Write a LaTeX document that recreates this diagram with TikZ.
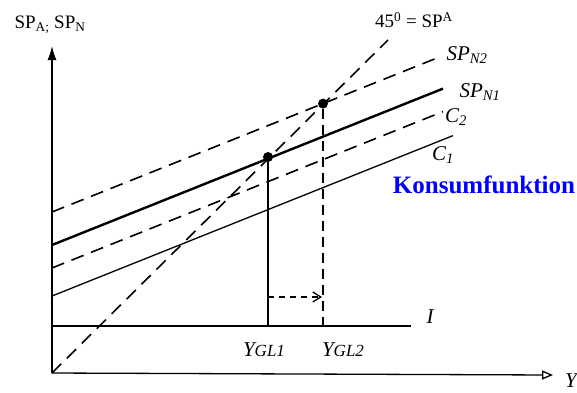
\documentclass[tikz,border=0pt]{standalone}
\usepackage{fontspec}
\setmainfont{Liberation Serif}
\usetikzlibrary{arrows.meta,positioning}

\begin{document}
\begin{tikzpicture}[x=1pt,y=-1pt, every node/.style={font=\fontsize{19}{21}\selectfont,inner sep=1pt}, hand/.style={font=\fontsize{21}{23}\selectfont\itshape}, thinln/.style={line width=1.3pt}, thickln/.style={line width=2.4pt}, dashln/.style={line width=1.6pt,dash pattern=on 13pt off 8pt}, vdash/.style={line width=2.2pt,dash pattern=on 10pt off 6pt}, dot/.style={circle,fill,inner sep=0pt,minimum size=10pt}]
\useasboundingbox (0,0) rectangle (577,392);
% axes
\coordinate (o) at (52,373);
\coordinate (ytop) at (52,46);
\coordinate (xend) at (553,375);
\draw[line width=1.4pt,-{Latex[length=14pt,width=9pt]}] (o)--(ytop);
\draw[line width=1.3pt,-{Triangle[open,length=11pt,width=9pt]}] (o)--(xend);
\node (ylab) at (50,25) {SP\textsubscript{A;} SP\textsubscript{N}};
\node[hand,anchor=east] (xlab) at (578,381) {Y};
% 45 degree line
\coordinate (d45) at (388,40);
\draw[dashln] (o)--(d45);
\node (lab45) at (414,20) {45\textsuperscript{0} = SP\textsuperscript{A}};
% investment line
\coordinate (i0) at (52,326);
\coordinate (i1) at (411,326);
\draw[thinln] (i0)--(i1);
\node[hand] (ilab) at (430,317) {I};
% parallel lines
\coordinate (n2a) at (52,212); \coordinate (n2b) at (437,58);
\coordinate (n1a) at (52,245); \coordinate (n1b) at (443,88.6);
\coordinate (c2a) at (52,268); \coordinate (c2b) at (443,111.6);
\coordinate (c1a) at (52,296); \coordinate (c1b) at (453,135.6);
\draw[dashln] (n2a)--(n2b);
\draw[thickln] (n1a)--(n1b);
\draw[dashln] (c2a)--(c2b);
\draw[thinln] (c1a)--(c1b);
\node[hand] (n2lab) at (467,55) {SP\textsubscript{N2}};
\node[hand] (n1lab) at (480,92) {SP\textsubscript{N1}};
\node[hand] (c2lab) at (456,117) {C\textsubscript{2}};
\node[hand] (c1lab) at (443,155) {C\textsubscript{1}};
\node[font=\fontsize{25}{27}\selectfont\bfseries,text=blue] (kf) at (484,185) {Konsumfunktion};
% equilibria
\node[dot] (e1) at (268,157) {};
\node[dot] (e2) at (323,103.6) {};
\coordinate (f1) at (268,326);
\coordinate (f2) at (323,326);
\draw[line width=1.6pt] (e1)--(f1);
\draw[vdash] (e2)--(f2);
\coordinate (s1) at (268,297);
\coordinate (s2) at (322,297);
\draw[line width=1.3pt,dash pattern=on 6pt off 5pt,-{Straight Barb[length=8pt,width=10pt]}] (s1)--(s2);
\node[hand] (y1lab) at (264,350) {Y{\fontsize{17}{19}\selectfont GL1}};
\node[hand] (y2lab) at (343,350) {Y{\fontsize{17}{19}\selectfont GL2}};
\end{tikzpicture}
\end{document}
